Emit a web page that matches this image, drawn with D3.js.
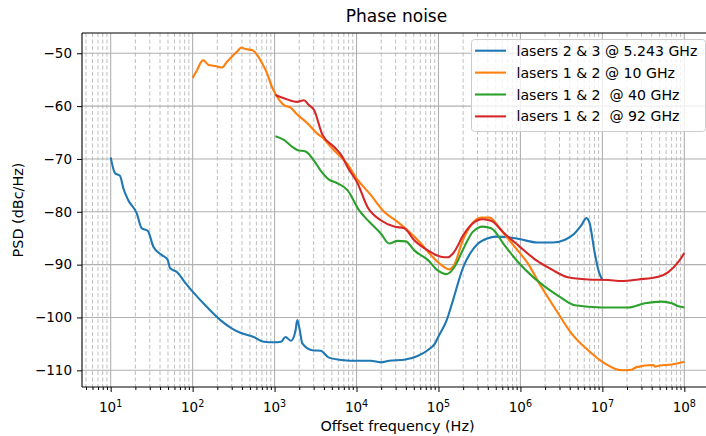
<!DOCTYPE html>
<html>
<head>
<meta charset="utf-8">
<script src="https://cdn.jsdelivr.net/npm/d3@7"></script>
<style>
  body { margin: 0; background: #fff; }
  svg text { font-family: "DejaVu Sans", sans-serif; fill: #000; }
</style>
</head>
<body>
<div id="chart"></div>
<script>
// ---- data ----
const seriesNames = ["lasers 2 & 3 @ 5.243 GHz", "lasers 1 & 2 @ 10 GHz", "lasers 1 & 2  @ 40 GHz", "lasers 1 & 2  @ 92 GHz"];
const seriesColors = ["#1f77b4", "#ff7f0e", "#2ca02c", "#d62728"];

const blueF = [10, 11.3, 13, 14.3, 16.4, 20.8, 23.9, 28.3, 33.2, 42, 49.3, 53.2, 64.3, 80, 102.6, 142.6, 218, 303, 383, 556, 738, 980, 1200, 1360, 1585, 1800, 1890, 2030, 2180, 2890, 3650, 4600, 7000, 10000, 14900, 19800, 25000, 38200, 55600, 73800, 90000, 100000, 126000, 150000, 200000, 250000, 300000, 400000, 500000, 700000, 1000000, 1600000, 2500000, 3500000, 4500000, 5500000, 6400000, 7000000, 8000000, 9000000, 10000000];
const blueP = [-69.7, -72.7, -73.2, -75.6, -77.8, -80.3, -83.1, -83.6, -86.6, -88.2, -89.0, -90.7, -91.4, -93.3, -95.3, -97.7, -100.5, -102.1, -102.9, -103.7, -104.6, -104.7, -104.6, -103.7, -104.4, -102.5, -100.5, -102.4, -104.9, -106.2, -106.3, -107.6, -108.1, -108.2, -108.2, -108.5, -108.2, -108.0, -107.3, -106.2, -105.0, -103.6, -100.5, -96.8, -90.5, -87.6, -86.1, -85.0, -84.7, -84.8, -85.2, -85.8, -85.8, -85.3, -84.2, -82.6, -81.2, -82.2, -87.5, -91.2, -92.9];

const orangeF = [100, 113, 134, 157, 170, 189, 228, 263, 303, 348, 394, 440, 532, 612, 705, 811, 908, 1026, 1300, 1570, 1890, 2500, 3320, 4000, 4830, 6410, 7750, 9800, 14900, 21700, 31600, 42000, 61100, 89000, 118000, 135000, 155000, 198000, 250000, 331000, 419000, 582000, 847000, 1236000, 1800000, 2880000, 4190000, 6700000, 10700000, 17100000, 22700000, 26100000, 41900000, 44000000, 50000000, 70200000, 100000000];
const orangeP = [-54.7, -53.2, -51.3, -52.2, -52.3, -52.4, -52.7, -51.6, -50.6, -49.7, -48.9, -49.2, -49.4, -50.3, -51.9, -53.8, -56.0, -57.7, -59.8, -60.3, -61.6, -63.2, -65.2, -66.2, -67.7, -69.6, -71.0, -73.5, -76.8, -80.0, -81.9, -83.5, -86.0, -88.9, -90.5, -90.9, -90.1, -85.4, -82.5, -81.1, -81.1, -83.5, -86.6, -89.8, -94.2, -99.2, -103.0, -106.2, -108.7, -110.0, -109.9, -109.4, -109.0, -109.3, -109.1, -108.9, -108.4];

const greenF = [1026, 1300, 1640, 1890, 2390, 3020, 3650, 4610, 5830, 7750, 10700, 14300, 19800, 25000, 31600, 40000, 50600, 73800, 100000, 124000, 140000, 160000, 207000, 262000, 348000, 440000, 638000, 933000, 1490000, 2170000, 3160000, 4600000, 9770000, 20700000, 33000000, 53000000, 70200000, 84700000, 100000000];
const greenP = [-65.7, -66.4, -67.7, -68.3, -68.6, -70.3, -72.2, -73.9, -74.6, -75.9, -79.7, -81.9, -84.1, -86.0, -85.5, -85.6, -87.3, -89.1, -91.2, -91.8, -91.4, -90.2, -86.6, -83.8, -82.8, -83.1, -86.3, -89.5, -92.6, -94.6, -96.3, -97.7, -98.1, -98.1, -97.3, -97.0, -97.3, -97.9, -98.1];

const redF = [1026, 1300, 1890, 2280, 2620, 3020, 3830, 5310, 6720, 7750, 10300, 13600, 19800, 28800, 38200, 50600, 73800, 107000, 130000, 150000, 207000, 262000, 348000, 440000, 638000, 933000, 1600000, 2400000, 3800000, 6700000, 11800000, 17100000, 27400000, 48200000, 63800000, 84700000, 100000000];
const redP = [-57.9, -58.5, -59.2, -58.9, -59.8, -60.7, -65.4, -67.7, -69.6, -71.5, -74.6, -79.1, -81.6, -82.8, -83.1, -85.4, -87.3, -88.5, -88.6, -87.9, -84.1, -82.2, -81.4, -81.7, -84.1, -86.3, -89.3, -90.9, -92.4, -92.8, -92.9, -93.1, -92.8, -92.3, -91.4, -89.5, -87.8];

const xMajorTicks = [10, 100, 1e3, 1e4, 1e5, 1e6, 1e7, 1e8];
const yTicks = [-110, -100, -90, -80, -70, -60, -50];

// ---- layout ----
const W = 706, H = 436;
const X0 = 82, X1 = 713, Y0 = 33, Y1 = 387;

const svg = d3.select("#chart").append("svg")
  .attr("width", W).attr("height", H);

const x = d3.scaleLog().domain([Math.pow(10, 0.65), Math.pow(10, 8.35)]).range([X0, X1]);
const y = d3.scaleLinear().domain([-113.16, -46.16]).range([Y1, Y0]);

// minor tick values 2..9 per decade inside domain
const xMinorTicks = [];
for (let e = 0; e <= 8; e++) {
  for (let m = 2; m <= 9; m++) {
    const v = m * Math.pow(10, e);
    if (v >= x.domain()[0] && v <= x.domain()[1]) xMinorTicks.push(v);
  }
}

const grid = svg.append("g");
// minor grid (dashed)
grid.selectAll(".xminor").data(xMinorTicks).enter().append("line")
  .attr("x1", d => x(d)).attr("x2", d => x(d))
  .attr("y1", Y0).attr("y2", Y1)
  .attr("stroke", "#b8b8b8").attr("stroke-width", 0.9)
  .attr("stroke-dasharray", "4,2.5");
// major grid
grid.selectAll(".xmajor").data(xMajorTicks).enter().append("line")
  .attr("x1", d => x(d)).attr("x2", d => x(d))
  .attr("y1", Y0).attr("y2", Y1)
  .attr("stroke", "#b0b0b0").attr("stroke-width", 1.1);
grid.selectAll(".ymajor").data(yTicks).enter().append("line")
  .attr("x1", X0).attr("x2", X1)
  .attr("y1", d => y(d)).attr("y2", d => y(d))
  .attr("stroke", "#b0b0b0").attr("stroke-width", 1.1);

// curves
const allSeries = [
  { f: blueF, p: blueP },
  { f: orangeF, p: orangeP },
  { f: greenF, p: greenP },
  { f: redF, p: redP }
];
const line = d3.line()
  .x(d => x(d[0]))
  .y(d => y(d[1]))
  .curve(d3.curveMonotoneX);

svg.append("defs").append("clipPath").attr("id", "clip")
  .append("rect").attr("x", X0).attr("y", Y0).attr("width", X1 - X0).attr("height", Y1 - Y0);

const lines = svg.append("g").attr("clip-path", "url(#clip)");
allSeries.forEach((s, i) => {
  lines.append("path")
    .datum(s.f.map((f, j) => [f, s.p[j]]))
    .attr("d", line)
    .attr("fill", "none")
    .attr("stroke", seriesColors[i])
    .attr("stroke-width", 2.1)
    .attr("stroke-linejoin", "round");
});

// axes
const xAxis = svg.append("g").attr("transform", `translate(0,${Y1})`)
  .call(d3.axisBottom(x).tickValues(xMajorTicks).tickSize(5).tickFormat(""));
xAxis.select(".domain").remove();
const xAxisMinor = svg.append("g").attr("transform", `translate(0,${Y1})`)
  .call(d3.axisBottom(x).tickValues(xMinorTicks).tickSize(3).tickFormat(""));
xAxisMinor.select(".domain").remove();

// x tick labels as 10 with superscript exponent
const xl = svg.append("g").selectAll("text").data(xMajorTicks).enter().append("text")
  .attr("x", d => x(d)).attr("y", 411.5)
  .attr("text-anchor", "middle")
  .style("font-size", "13.5px");
xl.append("tspan").text("10");
xl.append("tspan").attr("dy", "-0.45em").style("font-size", "9.6px")
  .text(d => Math.round(Math.log10(d)));

const yAxis = svg.append("g").attr("transform", `translate(${X0},0)`)
  .call(d3.axisLeft(y).tickValues(yTicks).tickSize(5).tickPadding(5));
yAxis.select(".domain").remove();
yAxis.selectAll("text").style("font-size", "13.5px").style("font-family", "DejaVu Sans");

// spines
svg.append("line").attr("x1", X0).attr("x2", X0).attr("y1", Y0).attr("y2", Y1).attr("stroke", "#000").attr("stroke-width", 1.1);
svg.append("line").attr("x1", X0).attr("x2", X1).attr("y1", Y1).attr("y2", Y1).attr("stroke", "#000").attr("stroke-width", 1.1);
svg.append("line").attr("x1", X0).attr("x2", X1).attr("y1", Y0).attr("y2", Y0).attr("stroke", "#000").attr("stroke-width", 1.1);

// titles
svg.append("text").attr("x", (X0 + X1) / 2 - 1).attr("y", 22)
  .attr("text-anchor", "middle").style("font-size", "17px").text("Phase noise");
svg.append("text").attr("x", (X0 + X1) / 2).attr("y", 431)
  .attr("text-anchor", "middle").style("font-size", "14.4px").text("Offset frequency (Hz)");
svg.append("text").attr("transform", `translate(23,${(Y0 + Y1) / 2}) rotate(-90)`)
  .attr("text-anchor", "middle").style("font-size", "14.4px").text("PSD (dBc/Hz)");

// legend
const leg = svg.append("g");
leg.append("rect").attr("x", 471.5).attr("y", 39.5).attr("width", 234).attr("height", 92)
  .attr("rx", 3).attr("fill", "#fff").attr("fill-opacity", 0.8)
  .attr("stroke", "#cccccc").attr("stroke-width", 1);
seriesNames.forEach((name, i) => {
  const ly = 50.7 + i * 21.9;
  leg.append("line").attr("x1", 475).attr("x2", 506).attr("y1", ly).attr("y2", ly)
    .attr("stroke", seriesColors[i]).attr("stroke-width", 2.1);
  leg.append("text").attr("x", 516.5).attr("y", ly + 5)
    .style("font-size", "14.1px").style("white-space", "pre")
    .attr("xml:space", "preserve")
    .text(name);
});
</script>
</body>
</html>
